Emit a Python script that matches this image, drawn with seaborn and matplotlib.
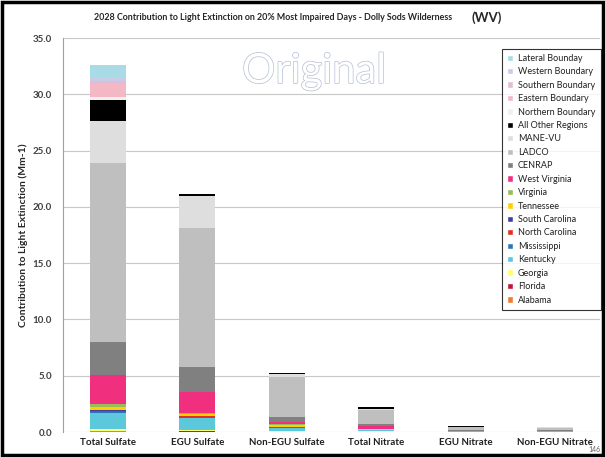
import numpy as np
import pandas as pd
import matplotlib
matplotlib.use("Agg")
import matplotlib.pyplot as plt
import matplotlib.patheffects as pe
from matplotlib.patches import Patch, Rectangle
import seaborn as sns

# categories on the x axis
categories = ["Total Sulfate", "EGU Sulfate", "Non-EGU Sulfate",
              "Total Nitrate", "EGU Nitrate", "Non-EGU Nitrate"]

# contributions (Mm-1), stacking order bottom -> top
alabama = [0.05, 0.03, 0.02, 0.01, 0.00, 0.00]
florida = [0.03, 0.02, 0.01, 0.01, 0.00, 0.00]
georgia = [0.15, 0.10, 0.05, 0.03, 0.01, 0.01]
kentucky = [1.50, 1.10, 0.30, 0.12, 0.02, 0.02]
mississippi = [0.02, 0.02, 0.01, 0.01, 0.00, 0.00]
north_carolina = [0.15, 0.12, 0.03, 0.02, 0.00, 0.00]
south_carolina = [0.02, 0.02, 0.01, 0.01, 0.00, 0.00]
tennessee = [0.30, 0.20, 0.15, 0.03, 0.01, 0.01]
virginia = [0.30, 0.05, 0.15, 0.03, 0.01, 0.01]
west_virginia = [2.50, 1.90, 0.15, 0.25, 0.02, 0.02]
cenrap = [2.95, 2.20, 0.45, 0.15, 0.08, 0.08]
ladco = [15.90, 12.40, 3.60, 1.30, 0.28, 0.24]
mane_vu = [3.80, 2.80, 0.20, 0.05, 0.05, 0.05]
all_other = [1.80, 0.15, 0.10, 0.18, 0.03, 0.03]
northern_bc = [0.25, 0.00, 0.00, 0.00, 0.00, 0.00]
eastern_bc = [1.20, 0.00, 0.00, 0.00, 0.00, 0.00]
southern_bc = [0.30, 0.00, 0.00, 0.00, 0.00, 0.00]
western_bc = [0.20, 0.00, 0.00, 0.00, 0.00, 0.00]
lateral_bc = [1.20, 0.00, 0.00, 0.00, 0.00, 0.00]

labels = ["Alabama", "Florida", "Georgia", "Kentucky", "Mississippi",
          "North Carolina", "South Carolina", "Tennessee", "Virginia",
          "West Virginia", "CENRAP", "LADCO", "MANE-VU", "All Other Regions",
          "Northern Boundary", "Eastern Boundary", "Southern Boundary",
          "Western Boundary", "Lateral Bounday"]
colors = ["#ed7d31", "#c0143c", "#ffff66", "#5bc8dc", "#2e75b6",
          "#e03020", "#4040a0", "#ffd000", "#9bbb59",
          "#f0307f", "#808080", "#bfbfbf", "#dedede", "#000000",
          "#f0f0f0", "#f4b8c4", "#e2bcd6", "#c8cce6", "#a9dbe6"]
series = [alabama, florida, georgia, kentucky, mississippi, north_carolina,
          south_carolina, tennessee, virginia, west_virginia, cenrap, ladco,
          mane_vu, all_other, northern_bc, eastern_bc, southern_bc,
          western_bc, lateral_bc]

sns.set_theme(style="white")
plt.rcParams["font.family"] = ["Lato", "DejaVu Sans"]

fig = plt.figure(figsize=(6.05, 4.57), dpi=100)
ax = fig.add_axes([63 / 605, 1 - 432 / 457, 537 / 605, 394 / 457])

bottom = np.zeros(len(categories))
for lab, vals, col in zip(labels, series, colors):
    df = pd.DataFrame({"cat": categories, "val": vals})
    sns.barplot(data=df, x="cat", y="val", bottom=bottom, color=col,
                saturation=1, width=0.4, errorbar=None, linewidth=0, ax=ax)
    bottom = bottom + np.array(vals)

ax.set_ylim(0, 35)
ax.set_xlim(-0.5, 5.5)
ax.set_yticks(np.arange(0, 35.1, 5))
ax.set_yticklabels([f"{v:.1f}" for v in np.arange(0, 35.1, 5)],
                   fontsize=7, fontweight="bold", color="#404040")
ax.set_xticks(range(len(categories)))
ax.set_xticklabels(categories, fontsize=7, fontweight="bold", color="#202020")
ax.tick_params(axis="y", length=0, pad=8)
ax.tick_params(axis="x", length=0, pad=4)
ax.yaxis.grid(True, color="#c8c8c8", linewidth=0.8)
ax.set_axisbelow(True)
for s in ["top", "right", "bottom"]:
    ax.spines[s].set_visible(False)
ax.spines["left"].set_color("#a0a0a0")
ax.spines["left"].set_linewidth(0.8)
ax.set_xlabel("")
ax.set_ylabel("Contribution to Light Extinction (Mm-1)", fontsize=7.5,
              fontweight="bold", labelpad=3)

handles = [Patch(facecolor=c, label=l) for l, c in zip(labels, colors)][::-1]
leg = fig.legend(handles=handles, loc="upper left",
                 bbox_to_anchor=(497 / 605, 1 - 44 / 457), fontsize=6.5,
                 frameon=True, fancybox=False, edgecolor="black",
                 handlelength=0.7, handleheight=0.7, handletextpad=0.5,
                 labelspacing=0.49, borderpad=0.6)
leg.get_frame().set_linewidth(0.8)
for t in leg.get_texts():
    t.set_color("#202020")

fig.text(94 / 605, 1 - 18 / 457,
         "2028 Contribution to Light Extinction on 20% Most Impaired Days - Dolly Sods Wilderness",
         fontsize=6.4, fontweight="bold", va="center", ha="left")
fig.text(472 / 605, 1 - 18 / 457, "(WV)", fontsize=9.5, fontweight="bold",
         va="center", ha="left")

wm = fig.text(314 / 605, 1 - 71 / 457, "Original", fontsize=30,
              color="white", ha="center", va="center")
wm.set_path_effects([pe.Stroke(linewidth=1.0, foreground="#b3bed4"), pe.Normal()])

fig.text(594 / 605, 1 - 449 / 457, "146", fontsize=5, color="#606060",
         ha="center", va="center")

fig.patches.append(Rectangle((0.004, 0.004), 0.992, 0.992,
                             transform=fig.transFigure, fill=False,
                             edgecolor="black", linewidth=2.5))

fig.savefig("out.png", dpi=100)
